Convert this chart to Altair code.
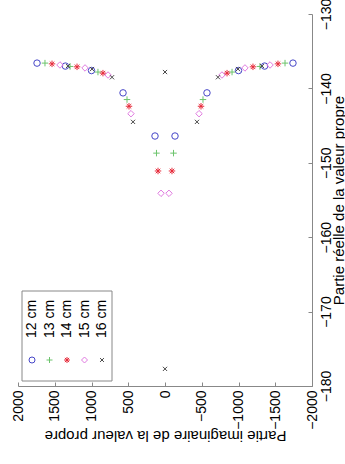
import altair as alt
import pandas as pd

series = ["12 cm", "13 cm", "14 cm", "15 cm", "16 cm"]
colors = ["#4646c8", "#6cc46c", "#e62a3a", "#e07ae0", "#4a4a4a"]
shapes = [
    "circle",
    "M-1,0L1,0M0,-1L0,1",
    "M-1,0L1,0M0,-1L0,1M-0.7,-0.7L0.7,0.7M-0.7,0.7L0.7,-0.7",
    "diamond",
    "M-0.65,-0.65L0.65,0.65M-0.65,0.65L0.65,-0.65",
]

# complex-conjugate eigenvalue pairs: real part and |imaginary part|
real_12 = [-136.6, -137.0, -137.6, -140.6, -146.4]
imag_12 = [1741, 1355, 1000, 571, 136]
real_13 = [-136.6, -137.05, -137.8, -141.5, -148.7]
imag_13 = [1633, 1292, 912, 517, 116]
real_14 = [-136.7, -137.1, -137.95, -142.4, -151.1]
imag_14 = [1537, 1197, 844, 490, 95]
real_15 = [-136.85, -137.25, -138.2, -143.4, -154.1]
imag_15 = [1429, 1088, 775, 463, 54]
real_16 = [-137.0, -137.4, -138.5, -144.5]
imag_16 = [1320, 993, 721, 435]
# purely real eigenvalues (16 cm)
real_only_16 = [-137.8, -177.7]

x_ticks = [2000, 1500, 1000, 500, 0, -500, -1000, -1500, -2000]
y_ticks = [-180, -170, -160, -150, -140, -130]

pairs = {
    "12 cm": (real_12, imag_12),
    "13 cm": (real_13, imag_13),
    "14 cm": (real_14, imag_14),
    "15 cm": (real_15, imag_15),
    "16 cm": (real_16, imag_16),
}
rows = []
for s, (re_list, im_list) in pairs.items():
    for r, i in zip(re_list, im_list):
        rows.append({"series": s, "re": r, "im": i})
        rows.append({"series": s, "re": r, "im": -i})
for r in real_only_16:
    rows.append({"series": "16 cm", "re": r, "im": 0})
df = pd.DataFrame(rows)
legend_df = pd.DataFrame({"series": series})

FONT = "Liberation Sans"
AX = "#888888"

color_enc = alt.Color("series:N", scale=alt.Scale(domain=series, range=colors), legend=None)
shape_enc = alt.Shape("series:N", scale=alt.Scale(domain=series, range=shapes), legend=None)

points = alt.Chart(df).mark_point(filled=False, size=42, strokeWidth=1, opacity=1).encode(
    x=alt.X(
        "im:Q",
        scale=alt.Scale(domain=[-2000, 2000], reverse=True, nice=False, zero=False),
        axis=alt.Axis(
            values=x_ticks, format="d", orient="bottom",
            title="Partie imaginaire de la valeur propre",
            labelAngle=270, labelAlign="right", labelBaseline="middle",
            labelPadding=8, labelFlush=False, labelOverlap=False,
            tickSize=alt.ExprRef(expr="-4"), tickColor=AX, domainColor=AX,
            labelFont=FONT, labelFontSize=14, labelColor="black",
            titleFont=FONT, titleFontSize=15, titleColor="black", titleFontWeight="normal",
            titleAngle=180, titleX=147, titleY=49, titleAlign="center", titleBaseline="middle",
            grid=False,
        ),
    ),
    y=alt.Y(
        "re:Q",
        scale=alt.Scale(domain=[-180, -130], nice=False, zero=False),
        axis=alt.Axis(
            values=y_ticks, format="d", orient="right",
            title="Partie réelle de la valeur propre",
            labelAngle=270, labelAlign="center", labelBaseline="top",
            labelPadding=11, labelFlush=False, labelOverlap=False,
            tickSize=alt.ExprRef(expr="-4"), tickColor=AX, domainColor=AX,
            labelFont=FONT, labelFontSize=14, labelColor="black",
            titleFont=FONT, titleFontSize=15, titleColor="black", titleFontWeight="normal",
            titleAngle=270, titleX=26, titleY=186, titleAlign="center", titleBaseline="middle",
            grid=False,
        ),
    ),
    color=color_enc,
    shape=shape_enc,
)

legend_x = alt.X("series:N", sort=series, scale=alt.Scale(range=[14, 84], padding=0), axis=None)

legend_box = alt.Chart(legend_df.head(1)).mark_rect(fill="white", stroke=AX, strokeWidth=1).encode(
    x=alt.value(4), x2=alt.value(94), y=alt.value(277), y2=alt.value(367)
)
legend_sym = alt.Chart(legend_df).mark_point(filled=False, size=36, strokeWidth=1, opacity=1).encode(
    x=legend_x, y=alt.value(346), color=color_enc, shape=shape_enc
)
legend_txt = alt.Chart(legend_df).mark_text(
    angle=270, align="left", baseline="middle", fontSize=14, font=FONT, color="black"
).encode(x=legend_x, y=alt.value(324), text="series:N")

chart = (
    alt.layer(points, legend_box, legend_sym, legend_txt)
    .resolve_scale(x="independent")
    .properties(
        width=294, height=372,
        padding={"left": 18, "top": 14, "right": 33, "bottom": 78},
        autosize=alt.AutoSizeParams(type="none"),
        background="white",
    )
    .configure_view(stroke=None)
)

chart.save("out.html", embed_options={"renderer": "svg", "actions": False})
